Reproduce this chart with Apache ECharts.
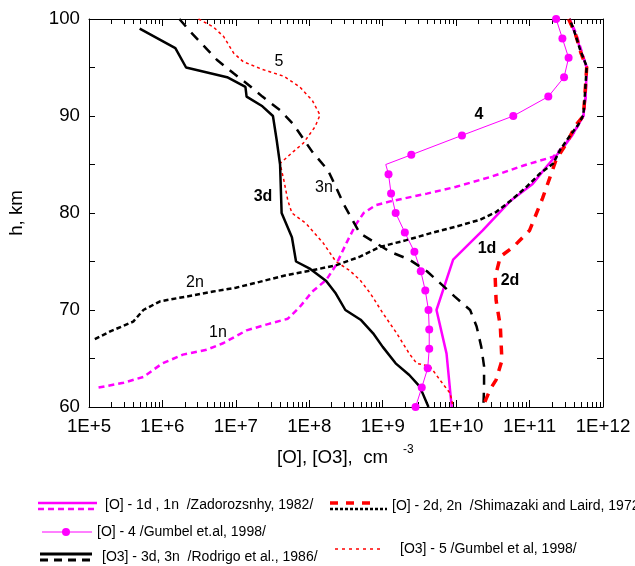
<!DOCTYPE html>
<html><head><meta charset="utf-8">
<script src="https://cdn.jsdelivr.net/npm/echarts@6/dist/echarts.min.js"></script>
<style>html,body{margin:0;padding:0;background:#fff}#c{width:635px;height:566px}</style>
</head><body><div id="c"></div>
<script>
// tick labels
const xTickLabels = ['1E+5','1E+6','1E+7','1E+8','1E+9','1E+10','1E+11','1E+12'];
const yTickLabels = ['60','70','80','90','100'];
const minorTickMultipliers = [2,3,4,5,6,7,8,9];

// [concentration cm^-3, altitude km]
const O_1d = [[3.5e11,100],[4.4e11,98],[5.4e11,96],[6.0e11,95],[5.8e11,92],[5.4e11,90],[3.8e11,88],[2.7e11,86.5],[1.8e11,85],[1.1e11,83],[5.4e10,81.2],[2.3e10,78.2],[9.1e9,75.2],[5.4e9,70],[7.4e9,65.5],[8.7e9,60]];
const O_1n = [[1.35e5,62],[2.95e5,62.5],[5.5e5,63.1],[1.0e6,64.5],[1.9e6,65.4],[4.0e6,65.9],[6.8e6,66.6],[1.4e7,67.9],[2.9e7,68.6],[5.1e7,69.1],[7.4e7,70.3],[1.1e8,71.9],[1.7e8,73.1],[2.3e8,74.6],[3.2e8,76.9],[4.3e8,78.8],[5.5e8,80],[8.0e8,80.8],[1.26e9,81.2],[4.0e9,82],[1.0e10,82.7],[2.9e10,83.7],[8.3e10,84.9],[2.1e11,85.8],[3.0e11,87],[4.2e11,88.5],[5.4e11,90],[5.8e11,92],[6.0e11,95],[5.2e11,96.5],[4.3e11,98.5],[3.5e11,100]];
const O_2d = [[3.4e11,100],[4.2e11,98.5],[5.0e11,96.5],[6.0e11,95],[5.6e11,91.6],[5.4e11,90],[4.2e11,89],[3.2e11,87.2],[2.3e11,85.5],[1.9e11,83.7],[1.5e11,81.5],[1.0e11,78.2],[6.0e10,76.5],[4.0e10,75.5],[3.4e10,73.4],[3.5e10,71],[4.0e10,68.3],[4.2e10,64.8],[3.5e10,62.8],[2.9e10,61.8],[2.3e10,60]];
const O_2n = [[1.2e5,67],[1.95e5,67.8],[4.0e5,68.8],[5.5e5,70],[9.3e5,70.9],[1.55e6,71.2],[2.6e6,71.5],[4.9e6,71.9],[1.0e7,72.3],[2.1e7,72.9],[4.9e7,73.6],[1.1e8,74.1],[2.3e8,74.6],[4.9e8,75.5],[9.1e8,76.5],[2.1e9,77.2],[4.4e9,77.9],[1.0e10,78.6],[2.1e10,79.3],[3.5e10,80.1],[5.4e10,81.2],[9.1e10,82.7],[1.4e11,84.1],[2.1e11,85.1],[2.6e11,86.5],[3.5e11,87.9],[4.6e11,89.1],[5.4e11,90.1],[5.6e11,91.6],[6.0e11,95.1],[4.9e11,96.8],[4.0e11,98.9],[3.5e11,100]];
const O_4 = [[2.3e11,100],[2.8e11,98],[3.4e11,96],[2.95e11,94],[1.8e11,92],[6.0e10,90],[1.2e10,88],[2.45e9,86],[1.1e9,85],[1.2e9,84],[1.3e9,82],[1.5e9,80],[2.0e9,78],[2.7e9,76],[3.3e9,74],[3.8e9,72],[4.2e9,70],[4.3e9,68],[4.3e9,66],[4.1e9,64],[3.4e9,62],[2.8e9,60]];
const O3_3d = [[4.9e5,99],[1.5e6,97],[2.1e6,95],[7.6e6,94],[1.35e7,93],[1.4e7,92],[2.3e7,91],[3.2e7,90],[3.6e7,87.5],[4.0e7,85],[4.2e7,80],[5.8e7,77.5],[6.6e7,75],[1.0e8,74.3],[1.7e8,73],[2.3e8,71.7],[3.1e8,70],[5.0e8,69],[7.4e8,67.6],[1.0e9,66.2],[1.5e9,64.5],[2.3e9,63.3],[3.2e9,62.1],[4.2e9,60]];
const O3_3n = [[1.7e6,100],[2.4e6,98.7],[5.5e6,95.8],[9.3e6,94.4],[1.55e7,93.1],[2.3e7,92],[4.0e7,90.6],[6.0e7,89.2],[1.1e8,86.3],[1.8e8,84.4],[2.3e8,82.7],[2.9e8,81],[4.2e8,78.8],[4.9e8,77.9],[1.26e9,76],[2.3e9,75.2],[4.0e9,74],[6.0e9,72.8],[9.5e9,71.4],[1.55e10,70],[1.9e10,68.3],[2.2e10,66.2],[2.4e10,64.2],[2.4e10,62.1],[2.35e10,60]];
const O3_5 = [[3.1e6,100],[4.9e6,99.2],[6.8e6,98.2],[9.3e6,96.5],[1.26e7,95.6],[2.3e7,94.8],[4.5e7,94.1],[7.4e7,93],[1.1e8,91.6],[1.4e8,90.1],[1.2e8,88.9],[8.3e7,87.2],[6.0e7,86.3],[4.0e7,85.1],[4.5e7,83.4],[5.1e7,81.3],[5.8e7,80],[9.1e7,78.9],[1.55e8,76.9],[2.3e8,75],[3.5e8,74.1],[4.9e8,73.1],[6.8e8,71.7],[1.0e9,69.7],[1.55e9,67.6],[2.3e9,65.5],[2.9e9,64.5],[4.4e9,64.2],[6.0e9,62.8],[8.3e9,61.4],[9.1e9,60]];

// minor tick positions of the log axis (2..9 x each decade), bottom (60) and top (100) edges
const minorTicks = [];
xTickLabels.slice(0, -1).forEach(l => {
  const dec = Number(l.replace('1E+', ''));
  minorTickMultipliers.forEach(m => {
    minorTicks.push([m * Math.pow(10, dec), 60]);
    minorTicks.push([m * Math.pow(10, dec), 100]);
  });
});

const FONT = '"Liberation Sans", Arial, sans-serif';
const chart = echarts.init(document.getElementById('c'), null, {renderer:'canvas'});

function axisX(pos, showLabel){
  return {
    type:'log', logBase:10, min:1e5, max:1e12, position:pos,
    axisLine:{show:true, lineStyle:{color:'#000', width:1}},
    axisTick:{show:true, inside:true, length:7, lineStyle:{color:'#000', width:1}},
    splitLine:{show:false},
    axisLabel:{show:showLabel, inside:false, margin:10, color:'#000', fontSize:18.7, fontFamily:FONT,
      formatter: v => xTickLabels[Math.round(Math.log10(v)) - 5]}
  };
}
function axisY(pos, showLabel){
  return {
    type:'value', min:60, max:100, interval:5, position:pos,
    axisLine:{show:true, lineStyle:{color:'#000', width:1}},
    axisTick:{show:true, inside:true, length:6, lineStyle:{color:'#000'}},
    splitLine:{show:false},
    axisLabel:{show:showLabel, margin:9, color:'#000', fontSize:18.7, fontFamily:FONT,
      formatter: v => (v % 10 === 0 ? yTickLabels[(v - 60) / 10] : '')}
  };
}
const ln = (data, color, width, type, extra) => Object.assign({
  type:'line', data, showSymbol:false, symbol:'none', animation:false, silent:true,
  lineStyle:{color, width, type}, itemStyle:{color}
}, extra || {});

const txt = (x, y, text, size, weight, extra, rot) => ({type:'text', x, y, rotation:rot||0, silent:true,
  style:Object.assign({text, fill:'#000', fontSize:size, fontFamily:FONT, fontWeight:weight||'normal', align:'left', verticalAlign:'middle'}, extra||{})});
const seg = (x1,y1,x2,y2,stroke,lw,dash) => ({type:'line', silent:true, shape:{x1,y1,x2,y2}, style:{stroke, lineWidth:lw, lineDash:dash||null}});

chart.setOption({
  animation:false,
  backgroundColor:'#fff',
  grid:{left:89, right:32, top:19, bottom:159, containLabel:false},
  xAxis:[axisX('bottom', true), axisX('top', false)],
  yAxis:[axisY('left', true), axisY('right', false)],
  series:[
    {
      type:'custom', data:minorTicks, clip:false, animation:false,
      renderItem:(params, api) => {
        const p = api.coord([api.value(0), api.value(1)]);
        const dir = api.value(1) < 80 ? -1 : 1;
        const x = Math.round(p[0]) + 0.5;
        return {type:'line', shape:{x1:x, y1:p[1], x2:x, y2:p[1] + dir * 5}, style:{stroke:'#000', lineWidth:1}};
      }
    },
    ln(O_4, '#ff00ff', 1, 'solid', {showSymbol:true, symbol:(v,p)=> p.dataIndex===8 ? 'none' : 'circle', symbolSize:8}),
    ln(O_1d, '#ff00ff', 2.5, 'solid'),
    ln(O_1n, '#ff00ff', 2.5, [6,4]),
    ln(O3_5, '#ff0000', 1.5, [3,3]),
    ln(O3_3d, '#000000', 2.5, 'solid'),
    ln(O3_3n, '#000000', 2.5, [10,8]),
    ln(O_2d, '#ff0000', 3.5, [9,8]),
    ln(O_2n, '#000000', 2.5, [5,3])
  ],
  graphic:[
    // axis titles
    txt(17, 213, 'h, km', 18.7, 'normal', {align:'center'}, Math.PI/2),
    txt(277, 458, '[O], [O3],  cm', 18.7),
    txt(403, 450, '-3', 12),
    // curve annotations
    txt(279, 62, '5', 16, 'normal', {align:'center'}),
    txt(479, 115, '4', 16, 'bold', {align:'center'}),
    txt(263, 197, '3d', 16, 'bold', {align:'center'}),
    txt(324, 188, '3n', 16, 'normal', {align:'center'}),
    txt(195, 283, '2n', 16, 'normal', {align:'center'}),
    txt(218, 333, '1n', 16, 'normal', {align:'center'}),
    txt(487, 249, '1d', 16, 'bold', {align:'center'}),
    txt(510, 281, '2d', 16, 'bold', {align:'center'}),
    // legend
    seg(38,503,97,503,'#ff00ff',2.5),
    seg(38,509,97,509,'#ff00ff',2.5,[6,4]),
    txt(105,505,'[O] - 1d , 1n  /Zadorozsnhy, 1982/', 14),
    seg(42,532,92,532,'#ff00ff',1),
    {type:'circle', silent:true, shape:{cx:66, cy:532, r:4}, style:{fill:'#ff00ff'}},
    txt(97,532,'[O] - 4 /Gumbel et.al, 1998/', 14),
    seg(40,554,92,554,'#000',3),
    seg(40,560,92,560,'#000',3,[8,6]),
    txt(102,557,'[O3] - 3d, 3n  /Rodrigo et al., 1986/', 14),
    seg(330,503,378,503,'#ff0000',3.5,[8,8]),
    seg(330,509,387,509,'#000',2.5,[3,2]),
    txt(392,506,'[O] - 2d, 2n  /Shimazaki and Laird, 1972/', 14),
    seg(335,549,382,549,'#ff0000',1.5,[3,4]),
    txt(400,549,'[O3] - 5 /Gumbel et al, 1998/', 14)
  ]
});
</script>
</body></html>
